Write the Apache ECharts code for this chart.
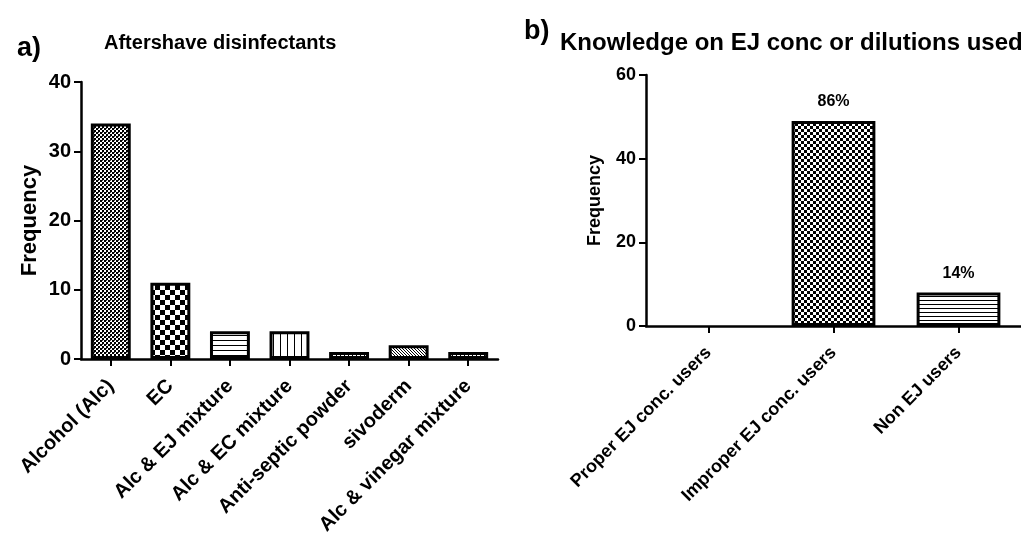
<!DOCTYPE html>
<html>
<head>
<meta charset="utf-8">
<title>Aftershave disinfectants and EJ knowledge</title>
<script src="https://cdn.jsdelivr.net/npm/echarts@6/dist/echarts.min.js"></script>
<style>
  html, body { margin: 0; padding: 0; background: #fff; }
  #chart { width: 1021px; height: 540px; }
</style>
</head>
<body>
<div id="chart"></div>
<script>
// Panel a) aftershave disinfectants
const disinfectantCategories = ['Alcohol (Alc)', 'EC', 'Alc & EJ mixture', 'Alc & EC mixture', 'Anti-septic powder', 'sivoderm', 'Alc & vinegar mixture'];
const disinfectantFrequency = [34, 11, 4, 4, 1, 2, 1];
const disinfectantTicks = [0, 10, 20, 30, 40];

// Panel b) knowledge on EJ concentration or dilutions used
const knowledgeCategories = ['Proper EJ conc. users', 'Improper EJ conc. users', 'Non EJ users'];
const knowledgeFrequency = [0, 49, 8];
const knowledgeTicks = [0, 20, 40, 60];

const FONT = 'Liberation Sans';

// Monochrome fill patterns built as small repeating canvas tiles
function tile(w, h, draw) {
  const c = document.createElement('canvas');
  c.width = w; c.height = h;
  const g = c.getContext('2d');
  g.fillStyle = '#fff';
  g.fillRect(0, 0, w, h);
  g.fillStyle = '#000';
  g.strokeStyle = '#000';
  draw(g, w, h);
  return { image: c, repeat: 'repeat' };
}
function checker(cell) {
  return tile(cell * 2, cell * 2, (g) => {
    g.fillRect(0, 0, cell, cell);
    g.fillRect(cell, cell, cell, cell);
  });
}
function dots() {
  // dense dotted texture: dark grid with small white holes
  return tile(4, 4, (g) => {
    g.fillRect(0, 0, 2, 2);
    g.fillRect(2, 2, 2, 2);
    g.fillStyle = '#444';
    g.fillRect(2, 0, 1, 1);
  });
}
function hLines(step) {
  return tile(4, step, (g) => { g.fillRect(0, 0, 4, 1); });
}
function vLines(step) {
  return tile(step, 4, (g) => { g.fillRect(0, 0, 1, 4); });
}
function diagonal(step, forward) {
  return tile(step, step, (g, s) => {
    g.lineWidth = 1;
    for (let k = -1; k <= 1; k++) {
      g.beginPath();
      if (forward) { g.moveTo(k * s, s); g.lineTo(k * s + s, 0); }
      else { g.moveTo(k * s, 0); g.lineTo(k * s + s, s); }
      g.stroke();
    }
  });
}
function bricks() {
  return tile(8, 4, (g) => {
    g.fillRect(0, 0, 8, 1);
    g.fillRect(0, 0, 1, 4);
    g.fillRect(4, 2, 1, 2);
  });
}

const disinfectantFills = [dots(), checker(5), hLines(5), vLines(7), diagonal(4, true), diagonal(3, false), bricks()];
const knowledgeFills = [hLines(4), checker(3), hLines(4)];

const knowledgeTotal = knowledgeFrequency.reduce((a, b) => a + b, 0);

const axisLineStyle = { color: '#000', width: 2.5 };

function yAxisFor(gridIndex, ticks, fontSize, nameSize, nameGap) {
  return {
    type: 'value', gridIndex, min: ticks[0], max: ticks[ticks.length - 1], interval: ticks[1] - ticks[0],
    name: 'Frequency', nameLocation: 'middle', nameGap,
    nameTextStyle: { fontFamily: FONT, fontWeight: 'bold', fontSize: nameSize, color: '#000' },
    axisLine: { show: true, lineStyle: axisLineStyle },
    axisTick: { show: true, length: 7, lineStyle: { color: '#000', width: 2 } },
    axisLabel: { fontFamily: FONT, fontWeight: 'bold', fontSize, color: '#000', margin: 10 },
    splitLine: { show: false }
  };
}
function xAxisFor(gridIndex, data, fontSize, margin) {
  return {
    type: 'category', gridIndex, data,
    axisLine: { show: true, lineStyle: axisLineStyle },
    axisTick: { show: true, alignWithLabel: true, length: 7, lineStyle: { color: '#000', width: 2 } },
    axisLabel: { interval: 0, rotate: 45, fontFamily: FONT, fontWeight: 'bold', fontSize, color: '#000', margin }
  };
}

function barItems(values, fills) {
  return values.map((v, i) => ({
    value: v,
    itemStyle: { color: fills[i], borderColor: '#000', borderWidth: v > 0 ? 3 : 0 }
  }));
}

const chart = echarts.init(document.getElementById('chart'), null, { renderer: 'canvas' });
chart.setOption({
  backgroundColor: '#fff',
  animation: false,
  title: [
    { text: 'a)', left: 12, top: 30, textStyle: { fontFamily: FONT, fontWeight: 'bold', fontSize: 27, color: '#000' } },
    { text: 'Aftershave disinfectants', left: 99, top: 28, textStyle: { fontFamily: FONT, fontWeight: 'bold', fontSize: 20, color: '#000' } },
    { text: 'b)', left: 519, top: 13, textStyle: { fontFamily: FONT, fontWeight: 'bold', fontSize: 27, color: '#000' } },
    { text: 'Knowledge on EJ conc or dilutions used', left: 555, top: 26, textStyle: { fontFamily: FONT, fontWeight: 'bold', fontSize: 24, color: '#000' } }
  ],
  grid: [
    { left: 81, top: 82, width: 417, height: 277, containLabel: false },
    { left: 646, top: 75, width: 376, height: 251, containLabel: false }
  ],
  xAxis: [
    xAxisFor(0, disinfectantCategories, 20, 24),
    xAxisFor(1, knowledgeCategories, 18, 24)
  ],
  yAxis: [
    yAxisFor(0, disinfectantTicks, 20, 22, 40),
    yAxisFor(1, knowledgeTicks, 18, 18, 42)
  ],
  series: [
    {
      type: 'bar', xAxisIndex: 0, yAxisIndex: 0, barWidth: '67%',
      data: barItems(disinfectantFrequency, disinfectantFills)
    },
    {
      type: 'bar', xAxisIndex: 1, yAxisIndex: 1, barWidth: '67%',
      data: barItems(knowledgeFrequency, knowledgeFills),
      label: {
        show: true, position: 'top', distance: 11,
        fontFamily: FONT, fontWeight: 'bold', fontSize: 16, color: '#000',
        formatter: (p) => p.value > 0 ? Math.round(p.value / knowledgeTotal * 100) + '%' : ''
      }
    }
  ]
});
</script>
</body>
</html>
